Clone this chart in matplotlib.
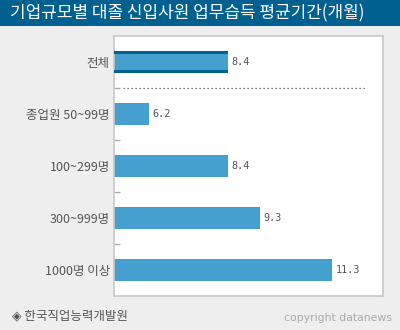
import matplotlib
matplotlib.use("Agg")
import matplotlib.pyplot as plt
from matplotlib.patches import Rectangle

plt.rcParams['font.family'] = ['Noto Sans CJK KR', 'DejaVu Sans']

# datos
categorias = ['전체', '종업원 50~99명', '100~299명', '300~999명', '1000명 이상']
valores = [8.4, 6.2, 8.4, 9.3, 11.3]
titulo = '기업규모별 대졸 신입사원 업무습득 평균기간(개월)'
fuente = '◈ 한국직업능력개발원'
copyright_txt = 'copyright datanews'

azul = '#459fcf'
azul_osc = '#00628f'
gris_txt = '#555555'

fig = plt.figure(figsize=(4, 3.3), dpi=100, facecolor='#eeeeee')

# franja del titulo
fig.patches.append(Rectangle((0, 0.921), 1, 0.079, transform=fig.transFigure,
                             facecolor='#00608f', edgecolor='none', zorder=0))
fig.text(0.025, 0.9606, titulo, color='white', fontsize=12.2, va='center', ha='left')

ax = fig.add_axes([0.285, 0.103, 0.6725, 0.788])
ax.set_facecolor('white')
y = list(range(len(categorias)))
ax.barh(y, valores, height=0.42, color=azul, left=0, zorder=2)

# bordes oscuros arriba y abajo de la barra "전체"
h = 0.42
t = 0.058
ax.barh([0 - h / 2 + t / 2, 0 + h / 2 - t / 2], [valores[0]] * 2, height=t,
        color=azul_osc, zorder=3)

for yi, v in zip(y, valores):
    ax.text(v + 0.1, yi, f'{v}', va='center', ha='left', fontsize=7.3,
            family='DejaVu Sans Mono', color=gris_txt)

ax.set_xlim(5.22, 12.73)
ax.set_ylim(4.5, -0.5)

ax.axhline(0.5, xmin=0.033, xmax=0.933, color=gris_txt, linestyle=(0, (1, 2.2)),
           linewidth=0.9)

ax.set_xticks([])
ax.set_yticks(y)
ax.set_yticklabels(categorias, fontsize=9, color=gris_txt)
ax.tick_params(axis='y', which='major', length=0, pad=3)
ax.set_yticks([0.5, 1.5, 2.5, 3.5], minor=True)
ax.tick_params(axis='y', which='minor', direction='in', length=4, color='#aaaaaa', width=1)

for s in ax.spines.values():
    s.set_color('#c8c8c8')
    s.set_linewidth(1.2)

fig.text(0.03, 0.042, fuente, fontsize=9, color=gris_txt, va='center', ha='left')
fig.text(0.98, 0.036, copyright_txt, fontsize=7.8, color='#aaaaaa', va='center',
         ha='right', family='DejaVu Sans')

fig.savefig('out.png', dpi=100, facecolor=fig.get_facecolor())
